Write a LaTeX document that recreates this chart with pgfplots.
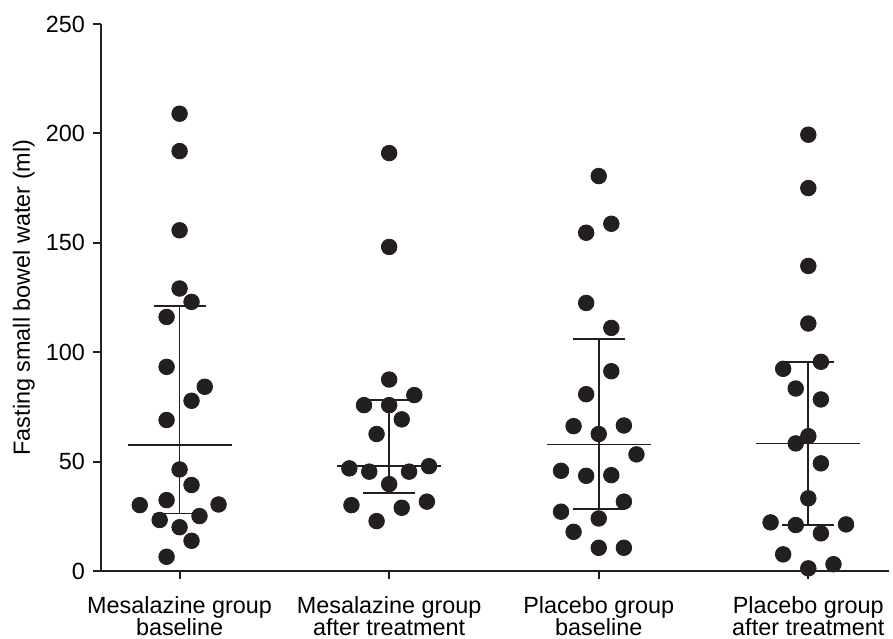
\documentclass[border=0pt]{standalone}
\usepackage{fontspec}
\setmainfont{Liberation Sans}
\usepackage{pgfplots}
\pgfplotsset{compat=1.18}
\definecolor{ink}{HTML}{231F20}
\begin{document}
\fontsize{11.7}{13}\selectfont
\begin{tikzpicture}
\begin{axis}[
  scale only axis, width=394pt, height=273.5pt,
  xmin=-0.375, xmax=3.385, ymin=0, ymax=250,
  axis x line=bottom, axis y line=left,
  axis line style={-, line width=1pt, ink},
  xtick={0,1,2,3},
  xticklabels={{Mesalazine group\\baseline},{Mesalazine group\\after treatment},{Placebo group\\baseline},{Placebo group\\after treatment}},
  xticklabel style={align=center, font=\fontsize{11.7}{11.2}\selectfont, text=black, yshift=-4.5pt},
  yticklabel style={font=\fontsize{11.7}{13}\selectfont, text=black},
  ytick={0,50,100,150,200,250},
  tick align=outside, major tick length=4pt,
  tick style={line width=1pt, ink},
  /pgf/number format/assume math mode=true,
  ylabel={Fasting small bowel water (ml)},
  ylabel style={font=\fontsize{11.7}{13}\selectfont, yshift=-2.5pt},
  clip=false,
  unbounded coords=jump,
]
% median and interquartile range
\addplot[ink, line width=0.9pt] coordinates {
 (-0.248,57.5) (0.248,57.5) (0,nan) (0,26.3) (0,121.0) (0,nan)
 (-0.124,121.0) (0.124,121.0) (0,nan) (-0.124,26.3) (0.124,26.3)};
\addplot[ink, line width=0.9pt] coordinates {
 (0.752,47.9) (1.248,47.9) (1,nan) (1,35.5) (1,78.1) (1,nan)
 (0.876,78.1) (1.124,78.1) (1,nan) (0.876,35.5) (1.124,35.5)};
\addplot[ink, line width=0.9pt] coordinates {
 (1.752,57.8) (2.248,57.8) (2,nan) (2,28.2) (2,105.9) (2,nan)
 (1.876,105.9) (2.124,105.9) (2,nan) (1.876,28.2) (2.124,28.2)};
\addplot[ink, line width=0.9pt] coordinates {
 (2.752,58.3) (3.248,58.3) (3,nan) (3,21.0) (3,95.6) (3,nan)
 (2.876,95.6) (3.124,95.6) (3,nan) (2.876,21.0) (3.124,21.0)};
% individual values
\addplot[only marks, mark=*, mark size=3.9pt, mark options={draw=ink, fill=ink}] coordinates {
 (0,209.0) (0,191.9) (0,155.7) (0,129.1) (0.057,123.0) (-0.062,116.1) (-0.062,93.3)
 (0.12,84.2) (0.057,77.8) (-0.062,69.0) (0,46.4) (0.057,39.3) (-0.062,32.4) (-0.19,30.1)
 (0.186,30.4) (0.095,25.1) (-0.095,23.3) (0,20.0) (0.057,13.8) (-0.062,6.5)};
\addplot[only marks, mark=*, mark size=3.9pt, mark options={draw=ink, fill=ink}] coordinates {
 (1,191.0) (1,148.1) (1,87.5) (1.12,80.4) (0.88,75.8) (1,75.8) (1.06,69.3) (0.94,62.6)
 (0.81,46.9) (0.905,45.4) (1.095,45.4) (1.19,47.9) (1,39.7) (0.82,30.1) (1.18,31.7)
 (1.06,28.9) (0.94,22.8)};
\addplot[only marks, mark=*, mark size=3.9pt, mark options={draw=ink, fill=ink}] coordinates {
 (2,180.5) (2.06,158.7) (1.94,154.6) (1.94,122.5) (2.06,111.1) (2.06,91.3) (1.94,80.8)
 (1.88,66.2) (2.12,66.5) (2,62.6) (2.18,53.3) (1.82,45.8) (1.94,43.5) (2.06,43.8)
 (2.12,31.7) (1.82,27.1) (2,24.0) (1.88,17.9) (2,10.6) (2.12,10.6)};
\addplot[only marks, mark=*, mark size=3.9pt, mark options={draw=ink, fill=ink}] coordinates {
 (3,199.4) (3,175.0) (3,139.4) (3,113.1) (3.06,95.6) (2.88,92.4) (2.94,83.4) (3.06,78.4)
 (3,61.6) (2.94,58.3) (3.06,49.2) (3,33.2) (2.82,22.2) (2.94,21.0) (3.18,21.3)
 (3.06,17.2) (2.88,7.6) (3,1.2) (3.12,3.1)};
\end{axis}
\pgfresetboundingbox
\path ([xshift=-50.5pt,yshift=-34pt]current axis.south west) rectangle ([xshift=2pt,yshift=12pt]current axis.north east);
\end{tikzpicture}
\end{document}
